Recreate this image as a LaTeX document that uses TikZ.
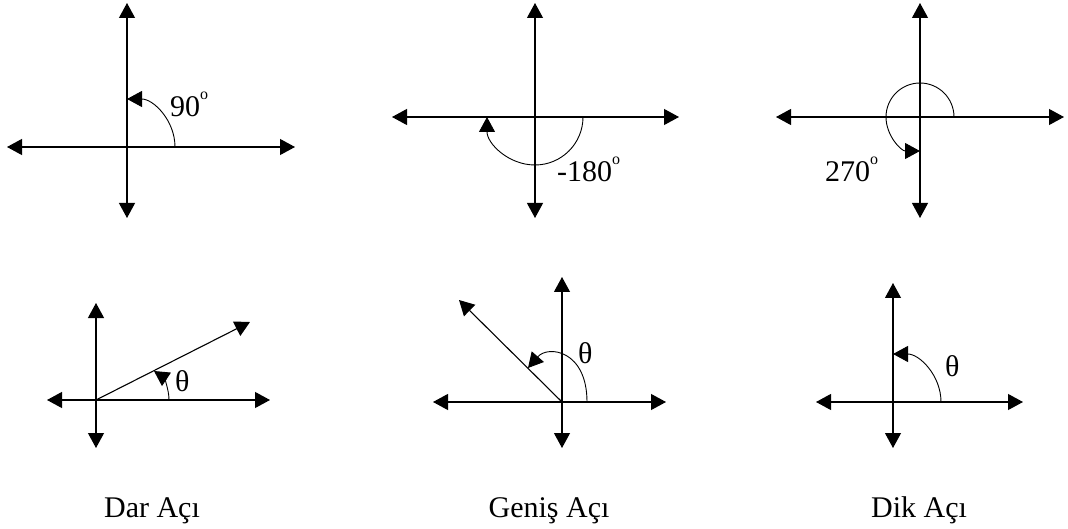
\documentclass[tikz,border=0pt]{standalone}
\usepackage{fontspec}
\setmainfont{Liberation Serif}
\usetikzlibrary{arrows.meta}

\newcommand{\degsign}{\raisebox{17pt}{\fontsize{16}{16}\selectfont o}}

\begin{document}
\begin{tikzpicture}[x=1pt,y=1pt,
  axis/.style={line width=1.1pt,{Triangle[width=16pt,length=15pt]}-{Triangle[width=16pt,length=15pt]}},
  ray/.style={line width=1.1pt,-{Triangle[width=16pt,length=15pt]}},
  anglearc/.style={line width=0.9pt,-{Triangle[width=16pt,length=15pt]}},
  lbl/.style={inner sep=0pt,anchor=base west,font=\fontsize{30}{36}\selectfont},
  namelbl/.style={inner sep=0pt,anchor=base,font=\fontsize{30}{36}\selectfont}]
\useasboundingbox (0,0) rectangle (1068,-529);
% origins
\coordinate (o1) at (127,-147);
\coordinate (o2) at (535,-117);
\coordinate (o3) at (920,-117);
\coordinate (o4) at (96,-400);
\coordinate (o5) at (562,-402);
\coordinate (o6) at (893,-402);
\coordinate (r4) at (250,-322);
\coordinate (r5) at (459,-300);
% top row
\draw[axis] ([yshift=-71pt]o1) -- ([yshift=144pt]o1);
\draw[axis] ([xshift=-120pt]o1) -- ([xshift=168pt]o1);
\draw[anglearc] ([xshift=48pt]o1) arc[start angle=0,end angle=90,radius=48];
\node[lbl] (deg90) at (170,-117) {90\degsign};
\draw[axis] ([yshift=-101pt]o2) -- ([yshift=114pt]o2);
\draw[axis] ([xshift=-143pt]o2) -- ([xshift=144pt]o2);
\draw[anglearc] ([xshift=48pt]o2) arc[start angle=0,end angle=-180,radius=48];
\node[lbl] (deg180) at (557,-182) {-180\degsign};
\draw[axis] ([yshift=-101pt]o3) -- ([yshift=114pt]o3);
\draw[axis] ([xshift=-144pt]o3) -- ([xshift=144pt]o3);
\draw[anglearc] ([xshift=34pt]o3) arc[start angle=0,end angle=270,radius=34];
\node[lbl] (deg270) at (825,-182) {270\degsign};
% bottom row
\draw[axis] ([yshift=-48pt]o4) -- ([yshift=97pt]o4);
\draw[axis] ([xshift=-49pt]o4) -- ([xshift=174pt]o4);
\draw[ray] (o4) -- (r4);
\draw[anglearc] (169,-400) .. controls (169,-388) and (163,-377) .. (154,-371);
\node[lbl] (th4) at (175,-391) {θ};
\draw[axis] ([yshift=-46pt]o5) -- ([yshift=125pt]o5);
\draw[axis] ([xshift=-129pt]o5) -- ([xshift=104pt]o5);
\draw[ray] (o5) -- (r5);
\draw[anglearc] (587,-402) .. controls (587,-350) and (548,-345) .. (528,-368);
\node[lbl] (th5) at (578,-363) {θ};
\draw[axis] ([yshift=-46pt]o6) -- ([yshift=119pt]o6);
\draw[axis] ([xshift=-77pt]o6) -- ([xshift=130pt]o6);
\draw[anglearc] ([xshift=48pt]o6) arc[start angle=0,end angle=90,radius=48];
\node[lbl] (th6) at (945,-376) {θ};
% names
\node[namelbl] (dar) at (152,-517) {Dar Açı};
\node[namelbl] (genis) at (549,-517) {Geniş Açı};
\node[namelbl] (dik) at (919,-517) {Dik Açı};
\end{tikzpicture}
\end{document}
